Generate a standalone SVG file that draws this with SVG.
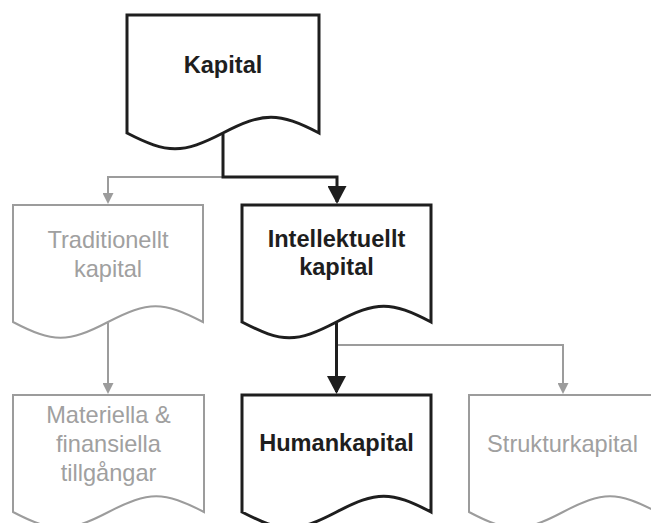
<svg xmlns="http://www.w3.org/2000/svg" width="651" height="523" viewBox="0 0 651 523">
  <style>
    .doc-dark { fill: #ffffff; stroke: #1e1e1e; stroke-width: 3; stroke-linejoin: miter; }
    .doc-gray { fill: #ffffff; stroke: #9c9c9c; stroke-width: 2; stroke-linejoin: miter; }
    .t-dark { font-family: "Liberation Sans", Arial, sans-serif; font-size: 23.6px; font-weight: bold; fill: #1e1e1e; text-anchor: middle; }
    .t-gray { font-family: "Liberation Sans", Arial, sans-serif; font-size: 23.6px; fill: #a0a0a0; text-anchor: middle; }
    .c-dark { fill: none; stroke: #1e1e1e; stroke-width: 3; }
    .c-gray { fill: none; stroke: #9c9c9c; stroke-width: 2; }
  </style>
  <defs>
    <marker id="arrow-dark" markerUnits="userSpaceOnUse" markerWidth="18" markerHeight="19" refX="16" refY="9.5" orient="auto">
      <path d="M0,0 L18,9.5 L0,19 Z" fill="#1e1e1e"/>
    </marker>
    <marker id="arrow-gray" markerUnits="userSpaceOnUse" markerWidth="11" markerHeight="11" refX="9" refY="5.5" orient="auto">
      <path d="M0,0 L11,5.5 L0,11 Z" fill="#9c9c9c"/>
    </marker>
  </defs>
  <rect width="651" height="523" fill="#ffffff"/>

  <g id="connectors">
    <path class="c-gray" d="M223,177 H108 V202" marker-end="url(#arrow-gray)"/>
    <path class="c-dark" d="M223,134 V177 H337 V202" marker-end="url(#arrow-dark)"/>
    <path class="c-gray" d="M108,323 V392" marker-end="url(#arrow-gray)"/>
    <path class="c-gray" d="M337,345 H563 V392" marker-end="url(#arrow-gray)"/>
    <path class="c-dark" d="M336.5,323 V392" marker-end="url(#arrow-dark)"/>
  </g>

  <g id="node-kapital">
    <path class="doc-dark" d="M127,15 H319 V133 C278.3,112 263.7,112 223,133 C182.3,154 167.7,154 127,133 Z"/>
    <text class="t-dark" x="223" y="73">Kapital</text>
  </g>

  <g id="node-traditionellt">
    <path class="doc-gray" d="M13,205 H203 V322 C162.7,301 148.3,301 108,322 C67.7,343 53.3,343 13,322 Z"/>
    <text class="t-gray" x="108" y="248">Traditionellt</text>
    <text class="t-gray" x="108" y="277">kapital</text>
  </g>

  <g id="node-intellektuellt">
    <path class="doc-dark" d="M242,205 H431 V322 C390.7,301 376.8,301 336.5,322 C296.2,343 282.3,343 242,322 Z"/>
    <text class="t-dark" x="336.5" y="247">Intellektuellt</text>
    <text class="t-dark" x="336.5" y="275">kapital</text>
  </g>

  <g id="node-materiella">
    <path class="doc-gray" d="M13,395 H204 V512 C163.5,491 149,491 108.5,512 C68,533 53.5,533 13,512 Z"/>
    <text class="t-gray" x="108.5" y="423">Materiella &amp;</text>
    <text class="t-gray" x="108.5" y="452">finansiella</text>
    <text class="t-gray" x="108.5" y="481">tillgångar</text>
  </g>

  <g id="node-humankapital">
    <path class="doc-dark" d="M242,395 H431 V512 C390.7,491 376.8,491 336.5,512 C296.2,533 282.3,533 242,512 Z"/>
    <text class="t-dark" x="336.5" y="451">Humankapital</text>
  </g>

  <g id="node-strukturkapital">
    <path class="doc-gray" d="M469,395 H657 V512 C617.1,491 602.9,491 563,512 C523.1,533 508.9,533 469,512 Z"/>
    <text class="t-gray" x="562.5" y="452">Strukturkapital</text>
  </g>
</svg>
